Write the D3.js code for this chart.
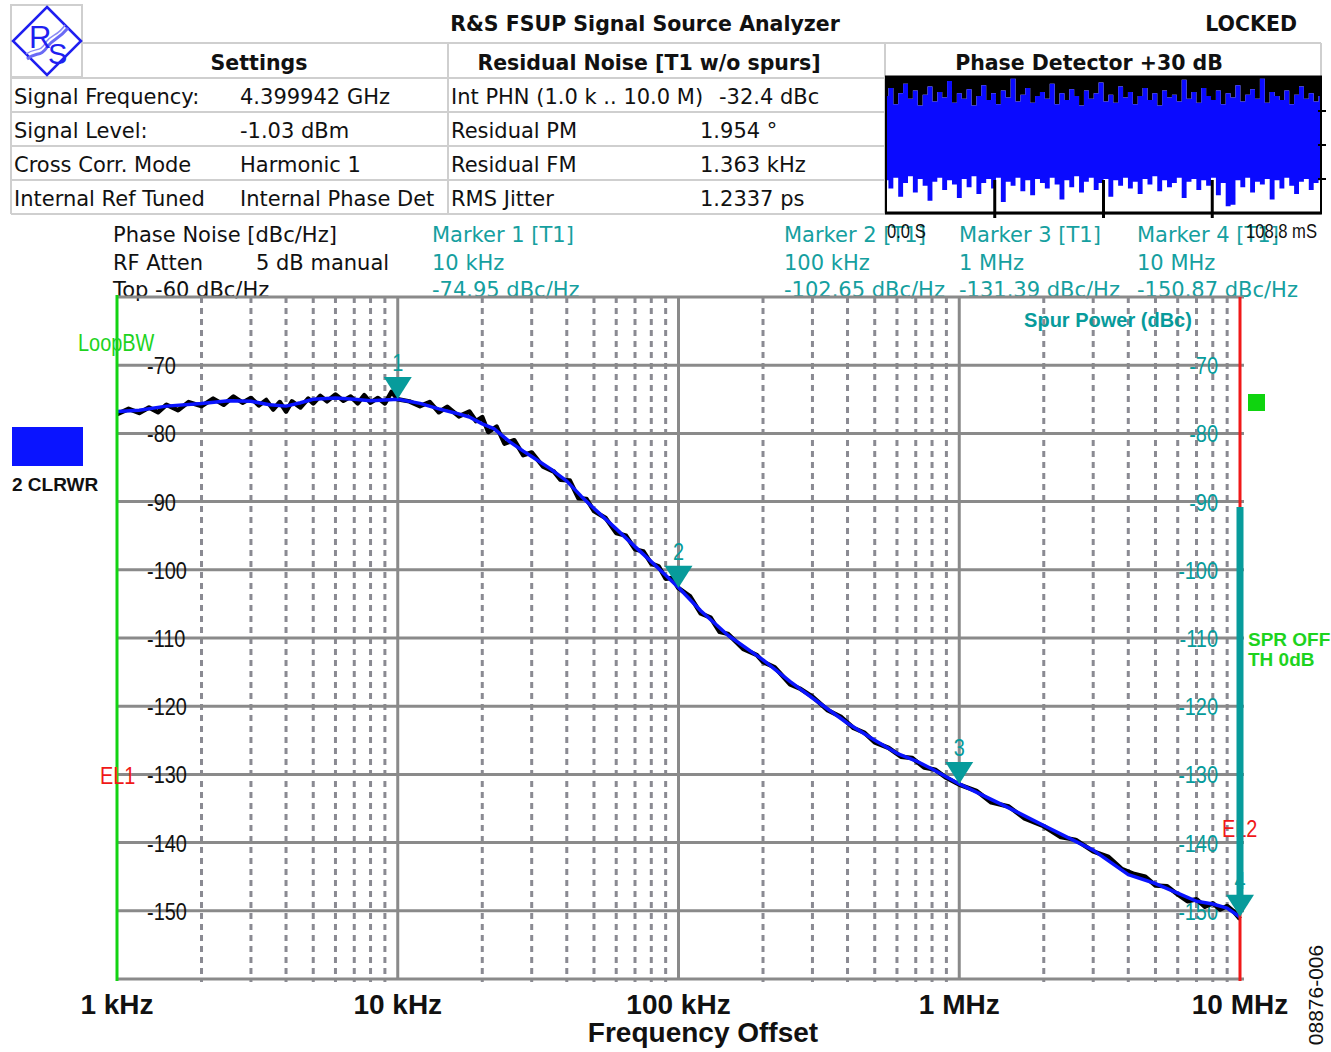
<!DOCTYPE html>
<html>
<head>
<meta charset="utf-8">
<script src="https://cdn.jsdelivr.net/npm/d3@7"></script>
<style>
    body { margin: 0; background: #fff; }
    svg { display: block; }
    .hdr { font-family: "DejaVu Sans", Verdana, sans-serif; font-size: 21px; fill: #111; }
    .hdr-b { font-family: "DejaVu Sans", Verdana, sans-serif; font-size: 20.5px; font-weight: bold; fill: #111; }
    .mk { font-family: "DejaVu Sans", Verdana, sans-serif; font-size: 21px; fill: #159f9f; }
    .narrow { font-family: "Liberation Sans", Arial, sans-serif; }
    .arial-b { font-family: "Liberation Sans", Arial, sans-serif; font-weight: bold; }
</style>
</head>
<body>
<div id="chart"></div>
<script>
// averaged trace (blue)
const avgFreq = [1e3, 1.2e3, 1.5e3, 2e3, 2.5e3, 3e3, 3.5e3, 4e3, 4.5e3, 5e3, 6e3, 7e3, 8e3, 9e3,
    1e4, 1.2e4, 1.4e4, 1.6e4, 1.8e4, 2e4, 2.2e4, 2.5e4, 2.8e4, 3e4, 3.5e4, 4e4, 4.5e4, 5e4, 6e4, 7e4, 8e4, 9e4,
    1e5, 1.2e5, 1.5e5, 2e5, 2.5e5, 3e5, 4e5, 5e5, 6e5, 7e5, 8e5,
    1e6, 1.5e6, 2e6, 3e6, 4e6, 5e6, 6e6, 7e6, 8e6, 9e6, 1e7];
const avgNoise = [-76.8, -76.6, -76.0, -75.6, -75.2, -75.3, -75.8, -76.0, -75.5, -75.0, -74.8, -75.0, -75.2, -75.1,
    -75.0, -75.6, -76.4, -77.0, -77.6, -78.6, -79.3, -81.2, -82.6, -83.4, -85.2, -87.0, -89.2, -91.0, -94.0, -96.6, -98.8, -100.8,
    -102.6, -106.0, -109.6, -113.2, -116.4, -118.8, -122.5, -125.0, -126.9, -128.0, -129.2,
    -131.4, -134.9, -137.5, -141.1, -144.7, -146.0, -147.4, -148.6, -149.0, -149.6, -150.9];

// raw trace (black)
const rawFreq = [1000, 1100, 1200, 1300, 1400, 1500, 1650, 1800, 2000, 2200, 2400, 2600, 2800, 3000, 3200, 3400, 3600, 3800,
    4000, 4200, 4500, 4800, 5000, 5300, 5600, 6000, 6400, 6800, 7200, 7600, 8000, 8500, 9000, 9500,
    10000, 11000, 12000, 13000, 14000, 15000, 16500, 18000, 19000, 20000, 21000, 22500, 24000, 26000, 28000, 30000,
    33000, 36000, 38000, 41000, 44000, 47000, 50000, 55000, 60000, 65000, 70000, 75000, 80000, 85000, 90000, 95000,
    100000, 110000, 120000, 130000, 140000, 150000, 170000, 190000, 200000, 220000, 250000, 270000, 300000, 340000,
    380000, 420000, 460000, 500000, 560000, 620000, 680000, 750000, 820000, 900000,
    1000000, 1150000, 1300000, 1500000, 1700000, 2000000, 2300000, 2600000, 3000000, 3400000, 3800000, 4200000,
    4600000, 5000000, 5500000, 6000000, 6500000, 7000000, 7500000, 8000000, 8500000, 9000000, 9500000, 10000000];
const rawNoise = [-77.2, -76.4, -77.0, -76.2, -76.9, -75.8, -76.6, -75.4, -76.0, -74.9, -75.8, -74.6, -75.5, -74.8, -75.9, -75.1, -76.5, -75.4,
    -76.8, -75.3, -76.2, -74.9, -75.6, -74.5, -75.3, -74.3, -75.2, -74.6, -75.6, -74.4, -75.5, -74.8, -75.6, -73.9,
    -75.0, -75.3, -76.0, -75.4, -76.9, -76.1, -77.5, -76.8, -78.2, -77.6, -79.8, -79.0, -81.5, -81.0, -83.2, -82.8,
    -84.9, -85.6, -86.8, -86.9, -89.5, -89.6, -91.4, -92.4, -94.6, -95.0, -97.0, -97.3, -99.1, -99.5, -101.3, -101.2,
    -102.7, -103.9, -106.4, -107.0, -109.1, -109.4, -111.6, -112.5, -113.5, -114.3, -116.8, -117.4, -118.6, -120.6,
    -121.6, -123.2, -123.9, -125.3, -126.1, -127.4, -127.6, -129.0, -129.3, -130.5,
    -131.5, -132.4, -134.1, -134.7, -136.4, -137.6, -139.2, -139.6, -141.3, -142.1, -143.9, -144.6,
    -145.0, -146.3, -146.4, -147.6, -148.6, -148.3, -149.4, -148.9, -149.8, -149.3, -150.1, -151.2];

const markerFreq = [1e4, 1e5, 1e6, 1e7];
const markerValue = [-74.95, -102.65, -131.39, -150.87];
const markerFreqText = ["10 kHz", "100 kHz", "1 MHz", "10 MHz"];

const yTicks = [-60, -70, -80, -90, -100, -110, -120, -130, -140, -150, -160];
const yLabels = [-70, -80, -90, -100, -110, -120, -130, -140, -150];
const xTickValues = [1e3, 1e4, 1e5, 1e6, 1e7];
const xTickLabels = ["1 kHz", "10 kHz", "100 kHz", "1 MHz", "10 MHz"];
const spurBarTop = -90.8;

// header tables
const settingsNames = ["Signal Frequency:", "Signal Level:", "Cross Corr. Mode", "Internal Ref Tuned"];
const settingsValues = ["4.399942 GHz", "-1.03 dBm", "Harmonic 1", "Internal Phase Det"];
const residualNames = ["Int PHN (1.0 k .. 10.0 M)", "Residual PM", "Residual FM", "RMS Jitter"];
const residualValues = ["-32.4 dBc", "1.954 \u00b0", "1.363 kHz", "1.2337 ps"];

// phase detector inset, 0..100 scale
const pdBlueTop = [86, 92, 80, 88, 95, 84, 90, 79, 87, 93, 82, 89, 85, 97, 81, 88, 84, 91, 79, 86,
    94, 83, 88, 80, 90, 85, 99, 82, 87, 92, 81, 86, 89, 84, 95, 80, 88, 83, 91, 86,
    79, 90, 84, 88, 96, 82, 87, 81, 93, 85, 89, 80, 86, 92, 83, 88, 79, 90, 85, 87,
    82, 98, 84, 89, 81, 92, 86, 83, 90, 80, 88, 85, 94, 82, 87, 91, 84, 99, 81, 89,
    86, 83, 90, 80, 87, 93, 84, 88, 82, 86];
const pdBlueBottom = [24, 18, 26, 12, 22, 27, 15, 25, 20, 9, 23, 26, 17, 24, 21, 11, 25, 19, 27, 14,
    22, 25, 18, 26, 8, 23, 20, 26, 16, 24, 13, 25, 22, 18, 26, 21, 10, 24, 19, 27,
    15, 23, 26, 17, 22, 25, 12, 24, 20, 26, 18, 23, 14, 25, 21, 27, 16, 24, 19, 22,
    26, 11, 23, 25, 17, 24, 20, 26, 13, 22, 5, 6, 24, 19, 26, 15, 23, 21, 25, 10,
    24, 18, 26, 20, 14, 23, 25, 17, 22, 24];
const pdSpan = 108.8; // ms

const W = 1331, H = 1052;
const TEAL = "#079b9b", GRID = "#8a8a8a";

const svg = d3.select("#chart").append("svg").attr("width", W).attr("height", H);

// condensed text (no narrow font available -> squeeze horizontally)
function narrow(sel, px, py, size, fill, anchor, txt) {
    return sel.append("text").attr("class", "narrow")
        .attr("transform", `translate(${px},${py}) scale(0.83,1)`)
        .attr("font-size", size).attr("fill", fill).attr("text-anchor", anchor).text(txt);
}

// ---------- header ----------
const lineCol = "#cfcfcf";
const hdr = svg.append("g");
// logo
hdr.append("rect").attr("x", 11).attr("y", 5).attr("width", 71).attr("height", 72)
    .attr("fill", "none").attr("stroke", lineCol).attr("stroke-width", 2);
hdr.append("polygon").attr("points", "47,7 81,41 47,75 13,41")
    .attr("fill", "none").attr("stroke", "#1f1ff0").attr("stroke-width", 2.5);
hdr.append("path").attr("d", "M27,59 C37,51 40,58 48,46 C54,38 58,40 68,28")
    .attr("fill", "none").attr("stroke", "#6a6af5").attr("stroke-width", 3);
hdr.append("path").attr("d", "M26,54 C36,47 40,53 46,42 C52,34 58,36 65,25")
    .attr("fill", "none").attr("stroke", "#8a8af5").attr("stroke-width", 1.5);
hdr.append("text").attr("x", 29).attr("y", 48).attr("font-family", "Liberation Sans").attr("font-size", 31)
    .attr("fill", "#1f1ff0").text("R");
hdr.append("text").attr("x", 48).attr("y", 64).attr("font-family", "Liberation Sans").attr("font-size", 29)
    .attr("fill", "#1f1ff0").text("S");

hdr.append("text").attr("class", "hdr-b").attr("x", 645).attr("y", 31).attr("text-anchor", "middle")
    .text("R&S FSUP Signal Source Analyzer");
hdr.append("text").attr("class", "hdr-b").attr("x", 1297).attr("y", 31).attr("text-anchor", "end").text("LOCKED");

// table grid
const rowY = [43, 78, 112, 146, 180, 214];
rowY.forEach((y, i) => {
    hdr.append("line").attr("x1", i === 0 ? 82 : 11).attr("x2", 1321).attr("y1", y).attr("y2", y)
        .attr("stroke", lineCol).attr("stroke-width", 2);
});
[11, 448, 885, 1321].forEach(x => {
    hdr.append("line").attr("x1", x).attr("x2", x).attr("y1", x === 11 ? 77 : 43).attr("y2", 214)
        .attr("stroke", lineCol).attr("stroke-width", 2);
});
hdr.append("text").attr("class", "hdr-b").attr("x", 259).attr("y", 70).attr("text-anchor", "middle").text("Settings");
hdr.append("text").attr("class", "hdr-b").attr("x", 649).attr("y", 70).attr("text-anchor", "middle").text("Residual Noise [T1 w/o spurs]");
hdr.append("text").attr("class", "hdr-b").attr("x", 1089).attr("y", 70).attr("text-anchor", "middle").text("Phase Detector +30 dB");

settingsNames.forEach((t, i) => {
    hdr.append("text").attr("class", "hdr").attr("x", 14).attr("y", 104 + i * 34).text(t);
    hdr.append("text").attr("class", "hdr").attr("x", 240).attr("y", 104 + i * 34).text(settingsValues[i]);
});
residualNames.forEach((t, i) => {
    hdr.append("text").attr("class", "hdr").attr("x", 451).attr("y", 104 + i * 34).text(t);
    hdr.append("text").attr("class", "hdr").attr("x", i === 0 ? 719 : 700).attr("y", 104 + i * 34).text(residualValues[i]);
});

// ---------- phase detector inset ----------
const pdX = d3.scaleLinear().domain([0, pdSpan]).range([886, 1321]);
const pdY = d3.scaleLinear().domain([0, 100]).range([213, 77]);
const pdT = i => i * pdSpan / (pdBlueTop.length - 1);
const pd = svg.append("g");
pd.append("rect").attr("x", 886).attr("y", 76).attr("width", 435).attr("height", 138).attr("fill", "#fff");
pd.append("path").datum(pdBlueTop)
    .attr("d", d3.area().x((d, i) => pdX(pdT(i))).y0(d => pdY(d)).y1(pdY(100)).curve(d3.curveStep))
    .attr("fill", "#000");
pd.append("path").datum(pdBlueTop)
    .attr("d", d3.area().x((d, i) => pdX(pdT(i))).y0((d, i) => pdY(pdBlueBottom[i])).y1(d => pdY(d)).curve(d3.curveStep))
    .attr("fill", "#0a0aff");
// frame
pd.append("line").attr("x1", 885).attr("x2", 1322).attr("y1", 77).attr("y2", 77).attr("stroke", "#000").attr("stroke-width", 3);
pd.append("line").attr("x1", 885).attr("x2", 1322).attr("y1", 213).attr("y2", 213).attr("stroke", "#000").attr("stroke-width", 3);
pd.append("line").attr("x1", 886).attr("x2", 886).attr("y1", 77).attr("y2", 213).attr("stroke", "#000").attr("stroke-width", 2);
pd.append("line").attr("x1", 1321).attr("x2", 1321).attr("y1", 77).attr("y2", 213).attr("stroke", "#000").attr("stroke-width", 2);
[pdSpan / 4, pdSpan / 2, pdSpan * 3 / 4].forEach(t => {
    pd.append("line").attr("x1", pdX(t)).attr("x2", pdX(t)).attr("y1", 180).attr("y2", 218)
        .attr("stroke", "#000").attr("stroke-width", 3);
});
[25, 50, 75].forEach(v => {
    pd.append("line").attr("x1", 1318).attr("x2", 1326).attr("y1", pdY(v)).attr("y2", pdY(v))
        .attr("stroke", "#000").attr("stroke-width", 2);
});

// ---------- plot ----------
const x = d3.scaleLog().domain([1e3, 1e7]).range([117, 1240]);
const y = d3.scaleLinear().domain([-60, -160]).range([297, 979]);

// info text above plot
const info = svg.append("g");
info.append("text").attr("class", "hdr").attr("x", 113).attr("y", 242).text("Phase Noise [dBc/Hz]");
info.append("text").attr("class", "hdr").attr("x", 113).attr("y", 270).text("RF Atten");
info.append("text").attr("class", "hdr").attr("x", 256).attr("y", 270).text("5 dB manual");
info.append("text").attr("class", "hdr").attr("x", 113).attr("y", 297).text("Top -60 dBc/Hz");
const markerTextX = [432, 784, 959, 1137];
markerFreq.forEach((f, i) => {
    info.append("text").attr("class", "mk").attr("x", markerTextX[i]).attr("y", 242).text(`Marker ${i + 1} [T1]`);
    info.append("text").attr("class", "mk").attr("x", markerTextX[i]).attr("y", 270).text(markerFreqText[i]);
    info.append("text").attr("class", "mk").attr("x", markerTextX[i]).attr("y", 297).text(`${markerValue[i].toFixed(2)} dBc/Hz`);
});
narrow(info, 887, 238, 20, "#111", "start", "0.0 S");
narrow(info, 1317, 238, 20, "#111", "end", "108.8 mS");

const grid = svg.append("g");
const minorTicks = x.ticks().filter(v => !xTickValues.includes(v));
grid.selectAll(".minor").data(minorTicks).enter().append("line")
    .attr("x1", d => x(d)).attr("x2", d => x(d)).attr("y1", 297).attr("y2", 982)
    .attr("stroke", "#8a8a92").attr("stroke-width", 3).attr("stroke-dasharray", "6,5");
grid.selectAll(".hline").data(yTicks).enter().append("line")
    .attr("x1", 117).attr("x2", 1244).attr("y1", d => y(d)).attr("y2", d => y(d))
    .attr("stroke", GRID).attr("stroke-width", 3);
grid.selectAll(".vline").data(xTickValues.slice(1, 4)).enter().append("line")
    .attr("x1", d => x(d)).attr("x2", d => x(d)).attr("y1", 297).attr("y2", 979)
    .attr("stroke", GRID).attr("stroke-width", 3);

// y labels
yLabels.forEach(v => {
    narrow(svg, 147, y(v) + 9, 24, "#111", "start", v);
    narrow(svg, 1218, y(v) + 9, 24, TEAL, "end", v);
});
svg.append("text").attr("class", "arial-b").attr("x", 1108).attr("y", 327).attr("font-size", 20)
    .attr("fill", TEAL).attr("text-anchor", "middle").text("Spur Power (dBc)");

// traces
const rawLine = d3.line().x((d, i) => x(rawFreq[i])).y(d => y(d));
svg.append("path").datum(rawNoise).attr("d", rawLine)
    .attr("fill", "none").attr("stroke", "#000").attr("stroke-width", 4.5).attr("stroke-linejoin", "round");
const avgLine = d3.line().x((d, i) => x(avgFreq[i])).y(d => y(d));
svg.append("path").datum(avgNoise).attr("d", avgLine)
    .attr("fill", "none").attr("stroke", "#0a14ff").attr("stroke-width", 3.5).attr("stroke-linejoin", "round");

// limit lines
svg.append("line").attr("x1", 117).attr("x2", 117).attr("y1", 295).attr("y2", 981)
    .attr("stroke", "#13d313").attr("stroke-width", 3);
svg.append("line").attr("x1", 1240).attr("x2", 1240).attr("y1", 297).attr("y2", 981)
    .attr("stroke", "#f01818").attr("stroke-width", 3);
narrow(svg, 78, 351, 24, "#1ed31e", "start", "LoopBW");
narrow(svg, 100, 784, 24, "#f01818", "start", "EL1");
narrow(svg, 1222, 837, 24, "#f01818", "start", "EL2");

// spur bar
svg.append("line").attr("x1", 1240).attr("x2", 1240).attr("y1", y(spurBarTop)).attr("y2", y(markerValue[3]) - 20)
    .attr("stroke", TEAL).attr("stroke-width", 7);

// markers
const mk = svg.append("g");
markerFreq.forEach((f, i) => {
    const mx = x(f), my = y(markerValue[i]);
    mk.append("path").attr("d", `M${mx - 14},${my - 22} L${mx + 14},${my - 22} L${mx},${my} Z`).attr("fill", TEAL);
    narrow(mk, mx, my - 28, 24, TEAL, "middle", i + 1);
});

// legend bits
svg.append("rect").attr("x", 12).attr("y", 427).attr("width", 71).attr("height", 39).attr("fill", "#0a14ff");
svg.append("text").attr("class", "arial-b").attr("x", 12).attr("y", 491).attr("font-size", 19).attr("fill", "#111").text("2 CLRWR");
svg.append("rect").attr("x", 1248).attr("y", 394).attr("width", 17).attr("height", 17).attr("fill", "#0fd40f");
svg.append("text").attr("class", "arial-b").attr("x", 1248).attr("y", 646).attr("font-size", 19).attr("fill", "#1ed31e").text("SPR OFF");
svg.append("text").attr("class", "arial-b").attr("x", 1248).attr("y", 666).attr("font-size", 19).attr("fill", "#1ed31e").text("TH 0dB");

// x axis labels
svg.selectAll(".xlab").data(xTickValues).enter().append("text").attr("class", "arial-b")
    .attr("x", d => x(d)).attr("y", 1014).attr("font-size", 28).attr("text-anchor", "middle")
    .attr("fill", "#111").text((d, i) => xTickLabels[i]);
svg.append("text").attr("class", "arial-b").attr("x", 703).attr("y", 1042).attr("font-size", 28)
    .attr("text-anchor", "middle").attr("fill", "#111").text("Frequency Offset");
svg.append("text").attr("font-family", "Liberation Sans, Arial, sans-serif").attr("font-size", 21)
    .attr("transform", "translate(1323,995) rotate(-90)").attr("text-anchor", "middle").attr("fill", "#111").text("08876-006");
</script>
</body>
</html>
